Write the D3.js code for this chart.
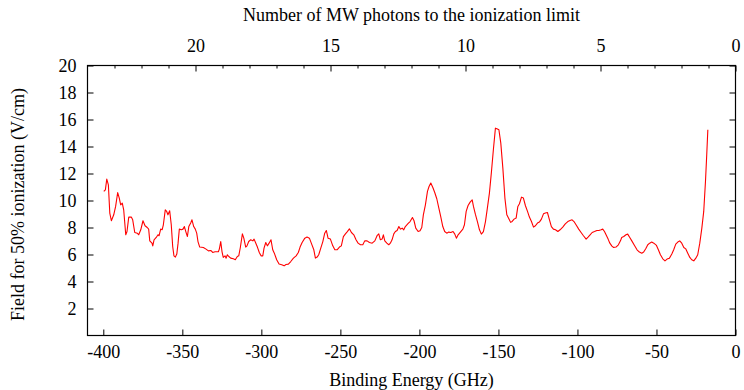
<!DOCTYPE html>
<html><head><meta charset="utf-8">
<script src="https://cdn.jsdelivr.net/npm/d3@7"></script>
<style>
body{margin:0;background:#fff;}
</style></head>
<body><svg id="c" width="744" height="390"></svg>
<script>
const energies = [-399.7,-398.7,-397.8,-396.8,-395.9,-394.9,-393.4,-392.2,-390.9,-389.9,-389.0,-388.0,-387.1,-385.8,-385.0,-383.9,-382.3,-381.4,-380.1,-378.5,-377.6,-376.3,-374.9,-373.6,-372.2,-371.3,-370.6,-369.2,-368.7,-367.9,-366.5,-365.4,-364.7,-363.7,-362.8,-362.0,-360.8,-359.9,-359.1,-358.0,-357.0,-356.1,-355.3,-354.4,-353.5,-352.7,-351.9,-350.6,-349.6,-348.7,-347.8,-346.8,-345.9,-344.7,-343.9,-342.8,-341.8,-340.9,-340.1,-339.0,-336.7,-335.0,-333.5,-332.0,-330.8,-329.3,-327.2,-326.6,-325.7,-324.9,-324.1,-323.0,-322.3,-321.5,-320.6,-319.4,-317.7,-316.5,-315.2,-314.3,-313.3,-312.0,-311.1,-309.9,-309.1,-308.0,-306.7,-305.4,-304.6,-303.5,-302.5,-301.3,-300.2,-299.1,-298.3,-297.2,-296.2,-295.1,-293.9,-292.8,-291.8,-290.3,-288.8,-287.1,-285.6,-284.4,-282.9,-281.4,-279.7,-278.0,-276.6,-275.5,-274.2,-272.5,-271.1,-269.6,-268.4,-266.8,-265.8,-264.7,-263.7,-262.4,-261.1,-259.9,-258.9,-257.8,-256.3,-254.8,-253.5,-252.1,-250.6,-249.4,-248.1,-246.8,-245.6,-244.3,-243.0,-241.5,-240.1,-238.8,-237.3,-235.8,-234.6,-233.1,-231.6,-229.9,-228.2,-226.8,-225.7,-224.7,-223.6,-222.8,-221.9,-220.6,-219.4,-218.4,-217.3,-216.2,-215.2,-214.1,-213.0,-212.0,-210.9,-209.9,-208.9,-207.1,-205.9,-204.4,-203.4,-202.3,-200.8,-199.6,-198.5,-197.5,-196.2,-194.9,-193.9,-192.8,-191.5,-190.3,-189.0,-187.7,-186.5,-185.2,-184.0,-182.7,-181.4,-180.1,-178.7,-177.6,-176.6,-175.5,-173.8,-172.5,-171.5,-170.4,-169.2,-167.9,-166.6,-165.8,-164.6,-163.3,-162.0,-160.8,-159.5,-158.2,-157.0,-155.7,-154.4,-153.2,-151.9,-151.0,-149.7,-148.5,-147.2,-145.9,-144.7,-143.4,-142.3,-141.3,-140.1,-138.8,-137.7,-136.7,-135.4,-134.2,-132.9,-131.6,-130.4,-129.1,-127.8,-126.6,-125.3,-124.1,-122.8,-121.5,-120.3,-119.0,-117.7,-116.5,-115.2,-113.9,-112.4,-111.0,-109.3,-107.7,-106.1,-104.7,-103.4,-102.2,-100.9,-99.2,-97.7,-96.2,-94.5,-93.3,-92.0,-90.7,-89.2,-87.7,-86.5,-85.0,-84.0,-82.9,-81.9,-80.6,-79.5,-78.2,-77.1,-75.6,-74.1,-72.8,-72.0,-70.7,-69.3,-68.2,-66.9,-65.6,-63.9,-62.3,-60.8,-59.3,-58.1,-56.8,-55.5,-54.3,-53.0,-51.7,-50.0,-48.8,-47.5,-46.0,-44.6,-43.3,-41.8,-40.3,-39.1,-37.8,-36.5,-35.3,-34.0,-32.7,-31.5,-30.2,-28.9,-27.7,-26.4,-25.1,-23.9,-22.6,-21.3,-20.1,-19.0,-18.2,-17.5];
const fields = [10.67,10.79,11.58,11.16,9.07,8.50,8.94,9.56,10.59,10.18,9.68,9.81,9.31,7.46,7.70,8.77,8.77,8.57,7.63,7.58,7.46,7.83,8.50,8.13,8.00,7.88,7.01,6.84,6.64,7.09,7.26,7.46,7.39,7.88,7.83,8.20,9.31,9.19,8.94,9.24,8.20,6.59,5.90,5.81,6.03,6.84,7.88,7.83,7.88,8.07,7.70,7.33,8.07,8.33,8.57,8.07,7.88,7.58,6.96,6.55,6.52,6.40,6.27,6.30,6.15,6.20,6.20,6.40,6.96,6.22,5.78,5.90,5.73,5.98,5.85,5.73,5.68,5.61,5.85,5.90,6.52,7.53,7.21,6.55,6.64,6.96,7.09,7.01,7.14,6.84,6.55,6.15,5.90,5.90,6.47,6.89,6.64,6.84,7.09,6.35,6.10,5.61,5.29,5.24,5.16,5.26,5.29,5.48,5.73,5.90,6.15,6.55,6.89,7.21,7.29,7.21,6.84,6.35,5.73,5.81,5.98,6.47,6.96,7.58,7.78,7.21,7.14,6.64,6.35,6.35,6.55,6.64,7.33,7.53,7.70,7.90,7.63,7.46,7.09,6.84,6.72,6.72,7.01,7.01,6.89,6.84,7.01,7.39,7.53,7.09,7.14,7.46,7.01,6.84,6.72,6.84,7.09,7.53,7.70,7.78,8.07,7.88,7.95,7.83,8.07,8.30,8.44,8.74,8.50,7.95,7.70,7.76,8.00,8.94,9.68,10.67,11.04,11.29,10.96,10.59,10.13,9.44,8.81,8.07,7.70,7.58,7.66,7.63,7.70,7.51,7.21,7.46,7.70,7.88,8.20,9.19,9.63,9.88,10.05,9.56,8.99,8.44,7.83,7.51,7.70,8.44,9.44,10.55,12.15,13.76,15.36,15.31,15.24,14.25,12.40,10.18,8.94,8.65,8.38,8.45,8.62,8.70,9.56,9.76,10.25,10.18,9.61,9.19,8.77,8.44,8.03,8.13,8.33,8.40,8.62,9.01,9.07,9.11,8.57,8.07,7.88,7.83,7.70,7.83,8.03,8.27,8.44,8.52,8.57,8.44,8.20,7.88,7.63,7.39,7.14,7.29,7.46,7.63,7.70,7.78,7.78,7.83,7.88,7.70,7.46,7.14,6.84,6.62,6.52,6.55,6.72,7.01,7.26,7.33,7.46,7.51,7.26,7.01,6.67,6.35,6.18,6.10,6.18,6.42,6.72,6.84,6.92,6.84,6.67,6.35,5.98,5.68,5.53,5.66,5.73,6.03,6.35,6.77,6.92,7.01,6.84,6.52,6.42,6.10,5.78,5.61,5.53,5.73,5.98,6.84,7.95,9.19,11.41,13.39,15.24];
const xTicks = [-400,-350,-300,-250,-200,-150,-100,-50,0];
const yTicks = [2,4,6,8,10,12,14,16,18,20];
const photonMajor = [20,15,10,5,0];
const photonMinor = [23,22,21,19,18,17,16,14,13,12,11,9,8,7,6,4,3,2,1];
const xTitle = "Binding Energy (GHz)";
const yTitle = "Field for 50% ionization (V/cm)";
const topTitle = "Number of MW photons to the ionization limit";

const FONT = "Liberation Serif";
const FS = 18;
const L=87.5, R=735.5, T=65.5, B=335.5;
const svg = d3.select("#c");
const x = d3.scaleLinear().domain([-410,0]).range([L,R]);
const xp = d3.scaleLinear().domain([24,0]).range([L,R]);
const y = d3.scaleLinear().domain([0,20]).range([B,T]);
const fmt = d => String(d);

// bottom axis
svg.append("g").attr("transform",`translate(0,${B})`)
  .call(d3.axisTop(x).tickValues(xTicks).tickSize(6).tickFormat(""));
svg.append("g").attr("transform",`translate(0,${B})`)
  .call(d3.axisBottom(x).tickValues(xTicks).tickSize(0).tickPadding(10).tickFormat(fmt));
// top axis
svg.append("g").attr("transform",`translate(0,${T})`)
  .call(d3.axisBottom(xp).tickValues(photonMinor).tickSize(3).tickFormat(""));
svg.append("g").attr("transform",`translate(0,${T})`)
  .call(d3.axisBottom(xp).tickValues(photonMajor).tickSize(6).tickFormat(""));
svg.append("g").attr("transform",`translate(0,${T})`)
  .call(d3.axisTop(xp).tickValues(photonMajor).tickSize(0).tickPadding(14).tickFormat(fmt));
// left axis
svg.append("g").attr("transform",`translate(${L},0)`)
  .call(d3.axisRight(y).tickValues(yTicks).tickSize(6).tickFormat(""));
svg.append("g").attr("transform",`translate(${L},0)`)
  .call(d3.axisLeft(y).tickValues(yTicks).tickSize(0).tickPadding(11).tickFormat(fmt));
// right axis ticks
svg.append("g").attr("transform",`translate(${R},0)`)
  .call(d3.axisLeft(y).tickValues(yTicks).tickSize(6).tickFormat(""));

svg.selectAll(".domain").remove();
svg.selectAll(".tick line").attr("stroke","#000").attr("stroke-width",1);
svg.selectAll("g").attr("font-family",FONT).attr("font-size",FS);
svg.selectAll(".tick text").style("font-family",FONT).style("font-size",FS+"px").attr("fill","#000");

// frame
svg.append("rect").attr("x",L).attr("y",T).attr("width",R-L).attr("height",B-T)
  .attr("fill","none").attr("stroke","#000").attr("stroke-width",1.2);

// data line
const data = energies.map((e,i)=>({e, f:fields[i]}));
svg.append("path").datum(data)
  .attr("fill","none").attr("stroke","#ff0000").attr("stroke-width",1.1)
  .attr("stroke-linejoin","round")
  .attr("d", d3.line().x(d=>x(d.e)).y(d=>y(d.f)));

// titles
function title(t){ return t.style("font-family",FONT).style("font-size",FS+"px").attr("fill","#000").attr("text-anchor","middle"); }
title(svg.append("text").attr("x",(L+R)/2).attr("y",386)).text(xTitle);
title(svg.append("text").attr("x",(L+R)/2).attr("y",21)).text(topTitle);
title(svg.append("text").attr("transform",`translate(24,${(T+B)/2+4}) rotate(-90)`)).text(yTitle);
</script></body></html>
